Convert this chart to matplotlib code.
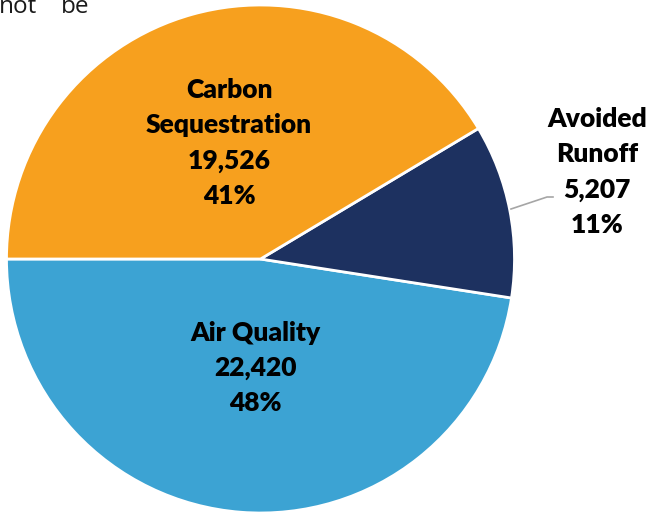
import matplotlib.pyplot as plt

plt.rcParams['font.family'] = ['Lato', 'DejaVu Sans']

# slices, in drawing order (counterclockwise from the left)
labels = ['Air Quality', 'Avoided\nRunoff', 'Carbon\nSequestration']
values = [22420, 5207, 19526]
pcts = ['48%', '11%', '41%']
colors = ['#3CA3D3', '#1D3160', '#F7A01E']

W, H = 655, 513
cx, cy, R = 260.5, 259, 254

fig = plt.figure(figsize=(W / 100, H / 100), dpi=100)
ax = fig.add_axes([0, 0, 1, 1])

ax.pie(values, colors=colors, startangle=180, counterclock=True,
       wedgeprops=dict(edgecolor='white', linewidth=2))
ax.set_xlim(-cx / R, (W - cx) / R)
ax.set_ylim(-(H - cy) / R, cy / R)
ax.axis('off')


def px(x, y):
    return (x - cx) / R, (cy - y) / R


txt = dict(ha='center', va='center', fontweight='heavy', fontsize=19,
           color='black', linespacing=1.55)
lab = [f'{l}\n{v:,}\n{p}' for l, v, p in zip(labels, values, pcts)]
ax.text(*px(255, 368), lab[0], **txt)
ax.text(*px(597, 172), lab[1], **txt)
ax.text(*px(229, 143), lab[2], **txt)

# leader line for the small slice
lx, ly = zip(px(511, 209), px(547, 197), px(553, 197))
ax.plot(lx, ly, color='#A6A6A6', lw=1.2)

# text from the page above, cut by the top edge as in the original
top = dict(ha='left', va='baseline', fontsize=17.5, color='#1a1a1a',
           family=['Open Sans', 'DejaVu Sans'])
ax.text(*px(-1, 13), 'not', **top)
ax.text(*px(61, 13), 'be', **top)

fig.savefig('out.png', dpi=100)
